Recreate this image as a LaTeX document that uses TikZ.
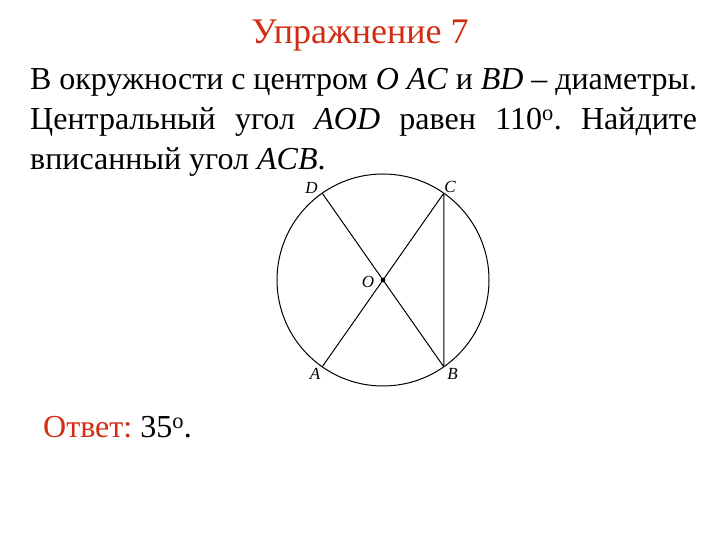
\documentclass[tikz,border=0pt]{standalone}
\usepackage{fontspec}
\setmainfont{Liberation Serif}
\usetikzlibrary{calc}
\definecolor{Title}{RGB}{210,45,20}
\tikzset{
  pointlabel/.style={font=\fontsize{17}{19}\selectfont\itshape, inner sep=1pt},
  figline/.style={line width=1pt}
}

\begin{document}
\frenchspacing
\begin{tikzpicture}[x=1pt,y=1pt]
    %%Background
    \useasboundingbox (0,0) rectangle (720,540);

    %% Title
    \node[Title, font=\fontsize{36}{40}\selectfont, anchor=base] (title) at (360,496) {Упражнение 7};

    %% Problem text
    \node[anchor=north west, text width=667pt, align=justify, inner sep=0pt,
      font=\fontsize{32}{40}\selectfont] (task) at (30,471.5)
      {В окружности с центром \textit{O AC} и \textit{BD} -- диаметры.
       Центральный угол \textit{AOD} равен 110\textsuperscript{o}. Найдите
       вписанный угол \textit{ACB}.};

    %% Circle
    \coordinate (O) at (383,260);
    \coordinate (C) at ($(O)+(55:106)$);
    \coordinate (A) at ($(O)+(235:106)$);
    \coordinate (D) at ($(O)+(125:106)$);
    \coordinate (B) at ($(O)+(305:106)$);
    \draw[figline] (O) circle (106);
    \draw[figline]
    (A) to (C)
    (D) to (B)
    (C) to (B)
    ;
    \fill (O) circle (2.4);

    \node[pointlabel] (lD) at (311.5,352.5) {D};
    \node[pointlabel] (lC) at (450,353.5) {C};
    \node[pointlabel] (lA) at (315,166) {A};
    \node[pointlabel] (lB) at (452.5,166) {B};
    \node[pointlabel] (lO) at (368,258.5) {O};

    %% Answer
    \node[anchor=base west, inner sep=0pt, font=\fontsize{32}{36}\selectfont] (answer) at (43,102)
      {\textcolor{Title}{Ответ:} 35\textsuperscript{o}.};
\end{tikzpicture}
\end{document}
